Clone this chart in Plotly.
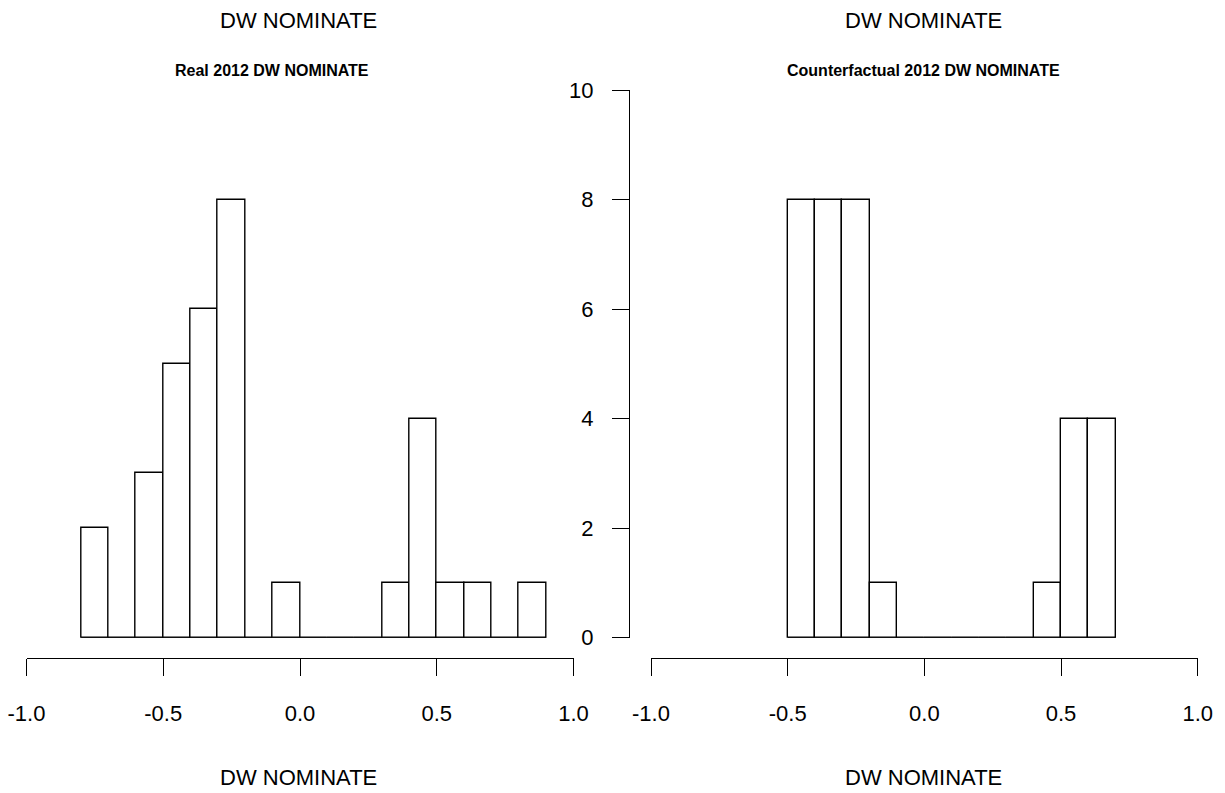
import plotly.graph_objects as go

# ---- data ----
bin_width = 0.1
real_bin_starts = [-0.8, -0.7, -0.6, -0.5, -0.4, -0.3, -0.2, -0.1, 0.0, 0.1, 0.2, 0.3, 0.4, 0.5, 0.6, 0.7, 0.8]
real_counts = [2, 0, 3, 5, 6, 8, 0, 1, 0, 0, 0, 1, 4, 1, 1, 0, 1]
cf_bin_starts = [-0.5, -0.4, -0.3, -0.2, -0.1, 0.0, 0.1, 0.2, 0.3, 0.4, 0.5, 0.6]
cf_counts = [8, 8, 8, 1, 0, 0, 0, 0, 0, 1, 4, 4]

x_tickvals = [-1.0, -0.5, 0.0, 0.5, 1.0]
x_ticktext = ["-1.0", "-0.5", "0.0", "0.5", "1.0"]
y_tickvals = [0, 2, 4, 6, 8, 10]
y_ticktext = ["0", "2", "4", "6", "8", "10"]

titles = ["Real 2012 DW NOMINATE", "Counterfactual 2012 DW NOMINATE"]
axis_label = "DW NOMINATE"

W, H = 1225, 793
FONT = "Liberation Sans, Arial, sans-serif"

def px(x):
    return x / W

def py(y):
    return 1 - y / H

fig = go.Figure()

panels = [
    (real_bin_starts, real_counts, "x", "y"),
    (cf_bin_starts, cf_counts, "x2", "y2"),
]
for starts, counts, xa, ya in panels:
    centers = [s + bin_width / 2 for s in starts]
    fig.add_trace(go.Bar(
        x=centers, y=counts, width=bin_width,
        marker=dict(color="white", line=dict(color="black", width=1.4)),
        xaxis=xa, yaxis=ya, cliponaxis=False, showlegend=False, hoverinfo="x+y",
    ))
    # baseline (zero-height bins are drawn as a flat line)
    fig.add_trace(go.Scatter(
        x=[starts[0], starts[-1] + bin_width], y=[0, 0], mode="lines",
        line=dict(color="black", width=1.4),
        xaxis=xa, yaxis=ya, cliponaxis=False, showlegend=False, hoverinfo="skip",
    ))

y_domain = [py(637.7), py(90)]
x_pos = py(657.7)

common_x = dict(
    range=[-1, 1], tickvals=x_tickvals, ticktext=x_ticktext,
    showline=True, linecolor="black", linewidth=1.4,
    ticks="outside", ticklen=17, tickwidth=1.4, tickcolor="black",
    showgrid=False, zeroline=False, anchor="free", position=x_pos,
    tickfont=dict(family=FONT, size=22, color="black"), ticklabelstandoff=19,
    fixedrange=True, automargin=False,
)
fig.update_layout(
    template="none",
    xaxis=dict(domain=[px(26.5), px(573.5)], **common_x),
    xaxis2=dict(domain=[px(651), px(1197.7)], **common_x),
    yaxis=dict(domain=y_domain, range=[0, 10], visible=False, fixedrange=True, automargin=False),
    yaxis2=dict(
        domain=y_domain, range=[0, 10], tickvals=y_tickvals, ticktext=y_ticktext,
        showline=True, linecolor="black", linewidth=1.4,
        ticks="outside", ticklen=17, tickwidth=1.4, tickcolor="black",
        showgrid=False, zeroline=False, anchor="free", position=px(629),
        tickfont=dict(family=FONT, size=22, color="black"), ticklabelstandoff=14,
        fixedrange=True, automargin=False,
    ),
)

annotations = []
for cx in [298, 923]:
    annotations.append(dict(text=axis_label, x=px(cx), y=py(20), xref="paper", yref="paper",
                            showarrow=False, xanchor="center", yanchor="middle",
                            font=dict(family=FONT, size=22, color="black")))
    annotations.append(dict(text=axis_label, x=px(cx), y=py(777), xref="paper", yref="paper",
                            showarrow=False, xanchor="center", yanchor="middle",
                            font=dict(family=FONT, size=22, color="black")))
for cx, title in zip([271.5, 923], titles):
    annotations.append(dict(text="<b>" + title + "</b>", x=px(cx), y=py(70), xref="paper", yref="paper",
                            showarrow=False, xanchor="center", yanchor="middle",
                            font=dict(family=FONT, size=16, color="black")))

fig.update_layout(
    width=W, height=H, autosize=False,
    margin=dict(l=0, r=0, t=0, b=0, pad=0),
    paper_bgcolor="white", plot_bgcolor="white",
    annotations=annotations, showlegend=False, bargap=0,
)

fig.write_html(
    "out.html",
    config={"displayModeBar": False},
    post_script="document.body.style.margin='0';document.body.style.overflow='hidden';",
)
